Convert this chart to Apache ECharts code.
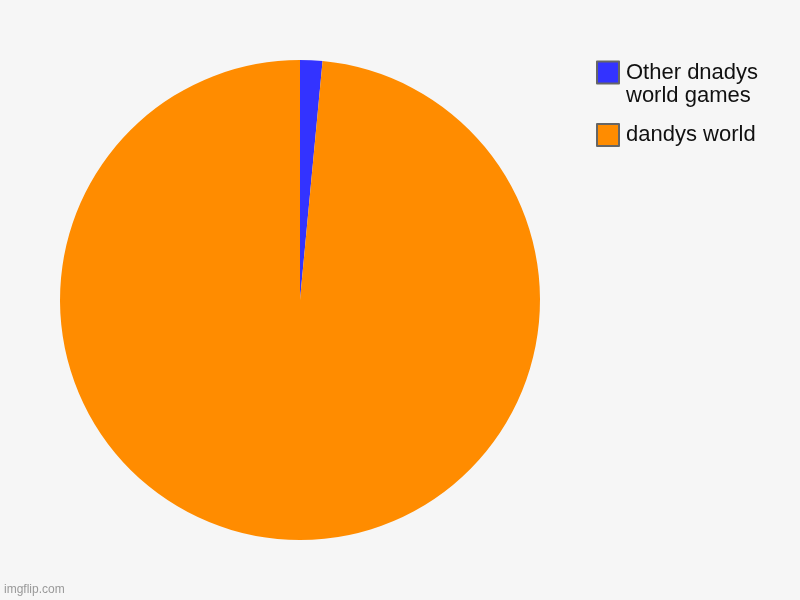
<!DOCTYPE html>
<html>
<head>
<meta charset="utf-8">
<script src="https://cdn.jsdelivr.net/npm/echarts@6/dist/echarts.min.js"></script>
<style>
html,body{margin:0;padding:0;background:#f6f6f6;}
#chart{width:800px;height:600px;}
</style>
</head>
<body>
<div id="chart"></div>
<script>
var categories = ['Other dnadys\nworld games', 'dandys world'];
var values = [1.5, 98.5];
var colors = ['#3333ff', '#ff8c00'];

var chart = echarts.init(document.getElementById('chart'), null, {renderer: 'canvas'});
var legendBase = {
  orient: 'vertical',
  left: 596,
  padding: 0,
  itemWidth: 22,
  itemHeight: 22,
  icon: 'rect',
  selectedMode: false,
  itemStyle: {borderColor: '#666666', borderWidth: 2},
  textStyle: {fontFamily: 'Liberation Sans, Arial, sans-serif', fontSize: 22, color: '#111111', lineHeight: 23, padding: [0, 0, 0, 2]}
};
chart.setOption({
  backgroundColor: '#f6f6f6',
  animation: false,
  legend: [
    Object.assign({}, legendBase, {top: 38, data: [categories[0]],
      formatter: function (name) { return '\n' + name; }}),
    Object.assign({}, legendBase, {top: 123, data: [categories[1]]})
  ],
  graphic: [{
    type: 'text', left: 4, top: 584,
    style: {text: 'imgflip.com', fill: '#999999', font: '12px Liberation Sans, Arial, sans-serif'}
  }],
  series: [{
    type: 'pie',
    center: [300, 300],
    radius: [0, 240],
    startAngle: 90,
    clockwise: true,
    label: {show: false},
    labelLine: {show: false},
    emphasis: {disabled: true},
    itemStyle: {borderWidth: 0},
    data: categories.map(function (c, i) {
      return {name: c, value: values[i], itemStyle: {color: colors[i]}};
    })
  }]
});
</script>
</body>
</html>
